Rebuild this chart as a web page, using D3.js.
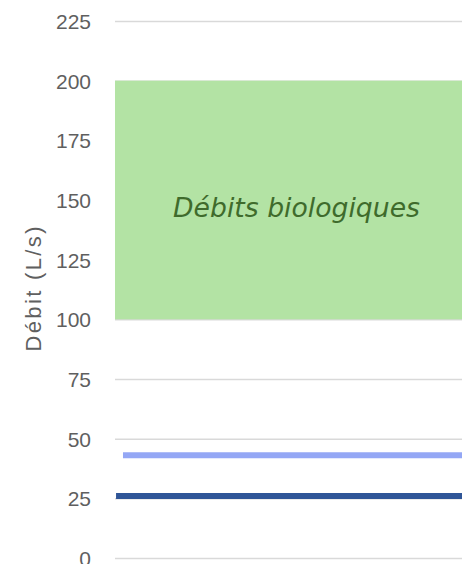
<!DOCTYPE html>
<html>
<head>
<meta charset="utf-8">
<script src="https://cdn.jsdelivr.net/npm/d3@7"></script>
<style>
  html, body { margin: 0; padding: 0; background: #fff; }
  svg { display: block; }
</style>
</head>
<body>
<svg id="chart" width="462" height="564"></svg>
<script>
// Flow thresholds (L/s)
const yTicks = [0, 25, 50, 75, 100, 125, 150, 175, 200, 225];
const bandLabel = "Débits biologiques";
const bandRange = [100, 200];           // biological flow range
const seriesNames = ["Débit A", "Débit B"];
const seriesValues = [43, 26];          // constant flow levels
const seriesStart = [0.023, 0.003];     // left end of each level, fraction of plot width
const seriesColors = ["#94a7f5", "#2f5597"];
const axisTitle = "Débit (L/s)";

const W = 462, H = 564;
const margin = { top: 21, right: 0, bottom: 6, left: 115 };

const svg = d3.select("#chart");

const y = d3.scaleLinear()
  .domain([0, 225])
  .range([H - margin.bottom, margin.top]);

const x = d3.scaleLinear()
  .domain([0, 1])
  .range([margin.left, W - margin.right]);

// horizontal gridlines
const yAxis = d3.axisLeft(y)
  .tickValues(yTicks)
  .tickSize(-(W - margin.left - margin.right))
  .tickPadding(24);

const gAxis = svg.append("g")
  .attr("transform", `translate(${margin.left},0)`)
  .call(yAxis);

gAxis.select(".domain").remove();
gAxis.selectAll(".tick line")
  .attr("stroke", "#d9d9d9")
  .attr("stroke-width", 1.5);
gAxis.selectAll(".tick text")
  .attr("fill", "#5f5f5f")
  .attr("font-family", "'Liberation Sans', Arial, sans-serif")
  .attr("font-size", 21)
  .attr("dy", "0.36em");

// biological flow band
svg.append("rect")
  .attr("x", x(0))
  .attr("y", y(bandRange[1]))
  .attr("width", x(1) - x(0))
  .attr("height", y(bandRange[0]) - y(bandRange[1]))
  .attr("fill", "#b3e3a4");

const label = svg.append("text")
  .attr("x", (x(0) + x(1)) / 2 + 8)
  .attr("y", y(147) + 10)
  .attr("text-anchor", "middle")
  .attr("fill", "#3f6b2c")
  .attr("font-family", "'DejaVu Sans', sans-serif")
  .attr("font-style", "italic")
  .attr("font-size", 20)
  .text(bandLabel);
// size the label to its target width
const natural = label.node().getComputedTextLength();
label.attr("font-size", 20 * 247 / natural);

// flow levels
svg.selectAll("line.level")
  .data(seriesValues)
  .join("line")
  .attr("class", "level")
  .attr("x1", (d, i) => x(seriesStart[i]))
  .attr("x2", x(1))
  .attr("y1", d => y(d))
  .attr("y2", d => y(d))
  .attr("stroke", (d, i) => seriesColors[i])
  .attr("stroke-width", 6);

// y axis title
svg.append("text")
  .attr("transform", `translate(41,${289}) rotate(-90)`)
  .attr("text-anchor", "middle")
  .attr("fill", "#5f5f5f")
  .attr("font-family", "'Liberation Sans', Arial, sans-serif")
  .attr("font-size", 22)
  .attr("textLength", 125)
  .attr("lengthAdjust", "spacing")
  .text(axisTitle);
</script>
</body>
</html>
